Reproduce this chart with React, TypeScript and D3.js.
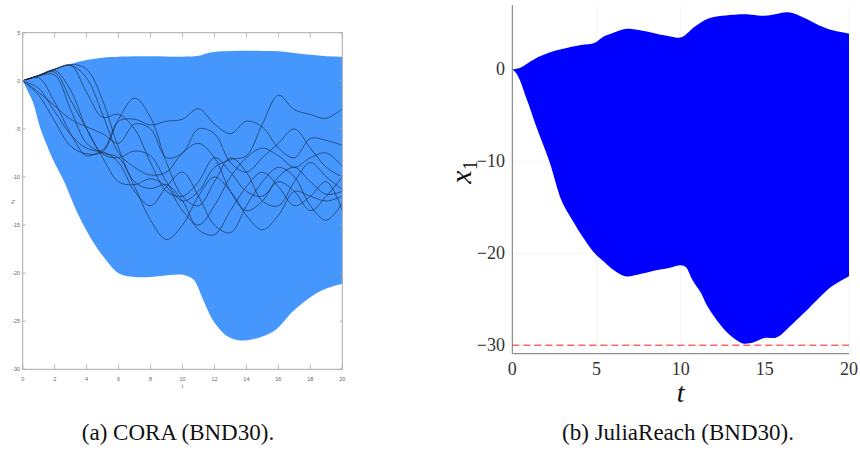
import React from "react";
import * as d3 from "d3";

// ---------- Left panel (CORA) ----------
const leftUpperT = [0, 0.5, 1, 1.5, 2, 2.5, 3, 4, 5, 6, 8, 10, 11, 11.5, 12, 13, 14, 15, 16, 17, 18, 19, 20];
const leftUpperV = [0, 0.25, 0.6, 0.95, 1.25, 1.5, 1.75, 2.15, 2.4, 2.5, 2.55, 2.5, 2.6, 2.85, 3.0, 3.1, 3.12, 3.1, 3.08, 2.9, 2.7, 2.55, 2.5];
const leftLowerT = [0, 0.3, 0.66, 1.08, 1.9, 2.54, 3.5, 4.5, 5.2, 6.0, 7.0, 8.0, 9.2, 10.1, 10.7, 11.3, 11.9, 12.75, 13.6, 14.3, 15.0, 15.9, 16.9, 18.0, 19.0, 20];
const leftLowerV = [0, -1.0, -2.3, -4.8, -8.2, -10.3, -14.0, -17.0, -18.6, -20.0, -20.4, -20.4, -20.2, -20.2, -20.7, -22.8, -24.9, -26.5, -27.0, -26.9, -26.6, -25.8, -24.0, -22.5, -21.6, -21.1];

const trajT = d3.range(0, 21);
const traj1 = [0, -1.5, -4.2, -6.8, -7.6, -7.4, -4.0, -1.8, -3.8, -8.5, -12.0, -13.0, -10.5, -8.0, -9.5, -12.5, -13.0, -10.5, -8.5, -10.0, -11.3];
const traj2 = [0, -0.8, -3.2, -5.6, -7.0, -7.2, -4.2, -4.0, -4.6, -4.2, -4.0, -2.9, -4.5, -5.5, -4.2, -4.8, -7.0, -8.0, -6.0, -6.2, -6.7];
const traj3 = [0, 0.55, 0.9, -2.0, -5.0, -7.6, -8.0, -7.3, -7.8, -10.5, -12.5, -11.5, -9.0, -8.2, -7.8, -4.5, -1.5, -3.0, -3.5, -3.9, -2.9];
const traj4 = [0, 0.3, -2.2, -5.5, -7.8, -7.4, -8.5, -11.5, -13.0, -11.0, -9.5, -12.0, -15.0, -15.8, -13.0, -10.5, -9.0, -10.0, -13.0, -14.5, -12.7];
const traj5 = [0, 0.55, 1.2, 1.6, -1.2, -3.8, -3.5, -5.0, -8.5, -11.5, -12.0, -10.5, -8.0, -9.5, -11.5, -12.0, -10.5, -11.5, -13.5, -12.0, -10.0];
const traj6 = [0, 0.5, 0.6, -3.0, -6.5, -7.5, -8.0, -11.0, -14.5, -16.5, -15.0, -12.0, -10.0, -11.5, -14.0, -15.5, -14.0, -11.5, -12.0, -12.5, -12.0];
const traj7 = [0, 0.55, 1.1, -1.0, -5.0, -8.0, -10.5, -10.8, -10.2, -11.0, -13.5, -15.0, -13.0, -10.0, -8.0, -7.0, -7.8, -9.0, -8.0, -7.5, -8.9];
const traj8 = [0, 0.55, 1.2, 1.6, 0.3, -3.5, -7.5, -9.0, -9.8, -9.5, -7.5, -6.5, -8.0, -11.5, -13.5, -12.5, -10.0, -9.0, -10.5, -11.8, -11.5];
const traj9 = [0, -1.2, -2.6, -4.0, -4.8, -5.5, -6.5, -4.5, -5.0, -8.0, -7.5, -5.0, -5.5, -8.5, -9.5, -8.0, -6.5, -5.0, -7.0, -9.0, -10.0];
const traj10 = [0, 0.55, 1.2, 1.7, 1.2, -2.0, -7.0, -10.5, -11.2, -10.8, -12.5, -15.5, -16.0, -13.5, -11.0, -9.5, -11.0, -13.0, -12.0, -10.5, -13.5];
const trajectories = [traj1, traj2, traj3, traj4, traj5, traj6, traj7, traj8, traj9, traj10];

const leftXTicks = [0, 2, 4, 6, 8, 10, 12, 14, 16, 18, 20];
const leftYTicks = [5, 0, -5, -10, -15, -20, -25, -30];

// ---------- Right panel (JuliaReach) ----------
const rightUpperT = [0, 0.45, 0.75, 1.54, 2.34, 3.1, 4.1, 4.9, 5.4, 5.9, 6.7, 7.5, 8.5, 9.46, 10.05, 10.85, 11.65, 12.45, 13.4, 14.2, 15.0, 15.6, 16.4, 17.4, 18.2, 18.96, 20];
const rightUpperV = [0, 0.15, 0.47, 1.34, 1.92, 2.28, 2.65, 2.9, 3.55, 3.9, 4.4, 4.28, 3.9, 3.55, 3.48, 4.65, 5.54, 5.83, 5.98, 5.95, 5.83, 6.0, 6.2, 5.55, 4.8, 4.28, 3.9];
const rightLowerT = [0, 0.3, 0.87, 1.5, 2.2, 2.93, 3.5, 4.0, 4.9, 5.5, 6.0, 6.7, 7.5, 8.4, 9.3, 10.0, 10.3, 10.7, 11.2, 11.6, 12.5, 13.2, 13.7, 14.3, 15.0, 15.6, 16.0, 16.4, 17.5, 18.2, 18.9, 20];
const rightLowerV = [0, -0.6, -3.3, -6.6, -10, -14.3, -16.2, -17.7, -20.0, -21.0, -21.8, -22.5, -22.3, -21.9, -21.6, -21.3, -21.5, -22.9, -24.3, -25.8, -28.1, -29.3, -29.8, -29.7, -29.2, -29.2, -28.8, -28.1, -26.2, -24.9, -23.7, -22.5];
const safetyBound = -30;

const rightXTicks = [0, 5, 10, 15, 20];
const rightYTicks = [0, -10, -20, -30];

const captionA = "(a) CORA (BND30).";
const captionB = "(b) JuliaReach (BND30).";

function bandPath(
  upT: number[], upV: number[], loT: number[], loV: number[],
  x: d3.ScaleLinear<number, number>, y: d3.ScaleLinear<number, number>
) {
  const line = d3.line<[number, number]>().x(d => x(d[0])).y(d => y(d[1])).curve(d3.curveCatmullRom.alpha(0.5));
  const up: [number, number][] = upT.map((t, i) => [t, upV[i]]);
  const lo: [number, number][] = loT.map((t, i) => [t, loV[i]]).reverse() as [number, number][];
  const a = line(up) || "";
  const b = (line(lo) || "").replace(/^M/, "L");
  return a + b + "Z";
}

export default function App() {
  // Left scales
  const lx = d3.scaleLinear().domain([0, 20]).range([22.7, 342.3]);
  const ly = d3.scaleLinear().domain([5, -30]).range([32.7, 369.3]);
  // Right scales
  const rx = d3.scaleLinear().domain([0, 20]).range([512.3, 849]);
  const ry = d3.scaleLinear().domain([7.0, -30.92]).range([5, 353.7]);

  const trajLine = d3.line<number>().x((_, i) => lx(trajT[i])).y(d => ly(d)).curve(d3.curveCatmullRom.alpha(0.5));

  const leftAxisColor = "#a8a8a8";
  const leftFont = "Liberation Sans, Arial, sans-serif";
  const serif = "'Liberation Serif', 'DejaVu Serif', serif";

  return (
    <svg width={860} height={457} style={{ position: "absolute", left: 0, top: 0, background: "#fff" }}>
      {/* ---------- Left panel ---------- */}
      <path d={bandPath(leftUpperT, leftUpperV, leftLowerT, leftLowerV, lx, ly)} fill="#4597fd" stroke="none" />
      {trajectories.map((tr, i) => (
        <path key={i} d={trajLine(tr) || ""} fill="none" stroke="#15233a" strokeOpacity={0.8} strokeWidth={0.75} />
      ))}
      {/* box */}
      <rect x={lx(0)} y={ly(5)} width={lx(20) - lx(0)} height={ly(-30) - ly(5)} fill="none" stroke={leftAxisColor} strokeWidth={1} />
      {leftXTicks.map(t => (
        <g key={"lxt" + t}>
          <line x1={lx(t)} x2={lx(t)} y1={ly(-30)} y2={ly(-30) - 5} stroke={leftAxisColor} strokeWidth={0.8} />
          <line x1={lx(t)} x2={lx(t)} y1={ly(5)} y2={ly(5) + 5} stroke={leftAxisColor} strokeWidth={0.8} />
          <text x={lx(t)} y={380.5} fontSize={5.5} fill="#666" textAnchor="middle" fontFamily={leftFont}>{t}</text>
        </g>
      ))}
      {leftYTicks.map(v => (
        <g key={"lyt" + v}>
          <line x1={lx(0)} x2={lx(0) + 3} y1={ly(v)} y2={ly(v)} stroke={leftAxisColor} strokeWidth={0.8} />
          <line x1={lx(20)} x2={lx(20) - 3} y1={ly(v)} y2={ly(v)} stroke={leftAxisColor} strokeWidth={0.8} />
          <text x={lx(0) - 2.5} y={ly(v) + 2} fontSize={5.5} fill="#666" textAnchor="end" fontFamily={leftFont}>{v}</text>
        </g>
      ))}
      <text x={lx(10)} y={388} fontSize={5.5} fill="#666" textAnchor="middle" fontFamily={leftFont}>t</text>
      <text transform={`translate(13.5,202) rotate(-90)`} fontSize={5} fill="#666" textAnchor="middle" fontFamily={leftFont}>
        x<tspan fontSize={3.5} dy={1}>1</tspan>
      </text>

      {/* ---------- Right panel ---------- */}
      {/* grid */}
      {rightXTicks.map(t => (
        <line key={"rgx" + t} x1={rx(t)} x2={rx(t)} y1={ry(7)} y2={ry(-30.92)} stroke="#000" strokeOpacity={0.08} strokeWidth={0.6} />
      ))}
      {rightYTicks.map(v => (
        <line key={"rgy" + v} x1={rx(0)} x2={rx(20)} y1={ry(v)} y2={ry(v)} stroke="#000" strokeOpacity={0.08} strokeWidth={0.6} />
      ))}
      <path d={bandPath(rightUpperT, rightUpperV, rightLowerT, rightLowerV, rx, ry)} fill="#0000ff" stroke="none" />
      <line x1={rx(0)} x2={rx(20)} y1={ry(safetyBound)} y2={ry(safetyBound)} stroke="#ff4d4d" strokeOpacity={0.85} strokeWidth={1.5} strokeDasharray="7,4" />
      {/* spines */}
      <line x1={rx(0)} x2={rx(0)} y1={ry(7)} y2={ry(-30.92)} stroke="#777" strokeWidth={1} />
      <line x1={rx(0)} x2={rx(20)} y1={ry(-30.92)} y2={ry(-30.92)} stroke="#777" strokeWidth={1} />
      {rightXTicks.map(t => (
        <text key={"rxt" + t} x={rx(t)} y={375} fontSize={18} fill="#333" textAnchor="middle" fontFamily={serif}>{t}</text>
      ))}
      {rightYTicks.map(v => (
        <text key={"ryt" + v} x={505} y={ry(v) + 6} fontSize={18} fill="#333" textAnchor="end" fontFamily={serif}>
          {v < 0 ? "\u2212" + Math.abs(v) : String(v)}
        </text>
      ))}
      <text x={rx(10)} y={402} fontSize={28} fontStyle="italic" fill="#111" textAnchor="middle" fontFamily={serif}>t</text>
      <text transform={`translate(471,172) rotate(-90)`} fontSize={30} fontStyle="italic" fill="#111" textAnchor="middle" fontFamily={serif}>
        x<tspan fontStyle="normal" fontSize={20} dy={6}>1</tspan>
      </text>

      {/* ---------- Captions ---------- */}
      <text x={178} y={440} fontSize={23} fill="#111" fontFamily={serif} textAnchor="middle">{captionA}</text>
      <text x={678} y={440} fontSize={23} fill="#111" fontFamily={serif} textAnchor="middle">{captionB}</text>
    </svg>
  );
}
